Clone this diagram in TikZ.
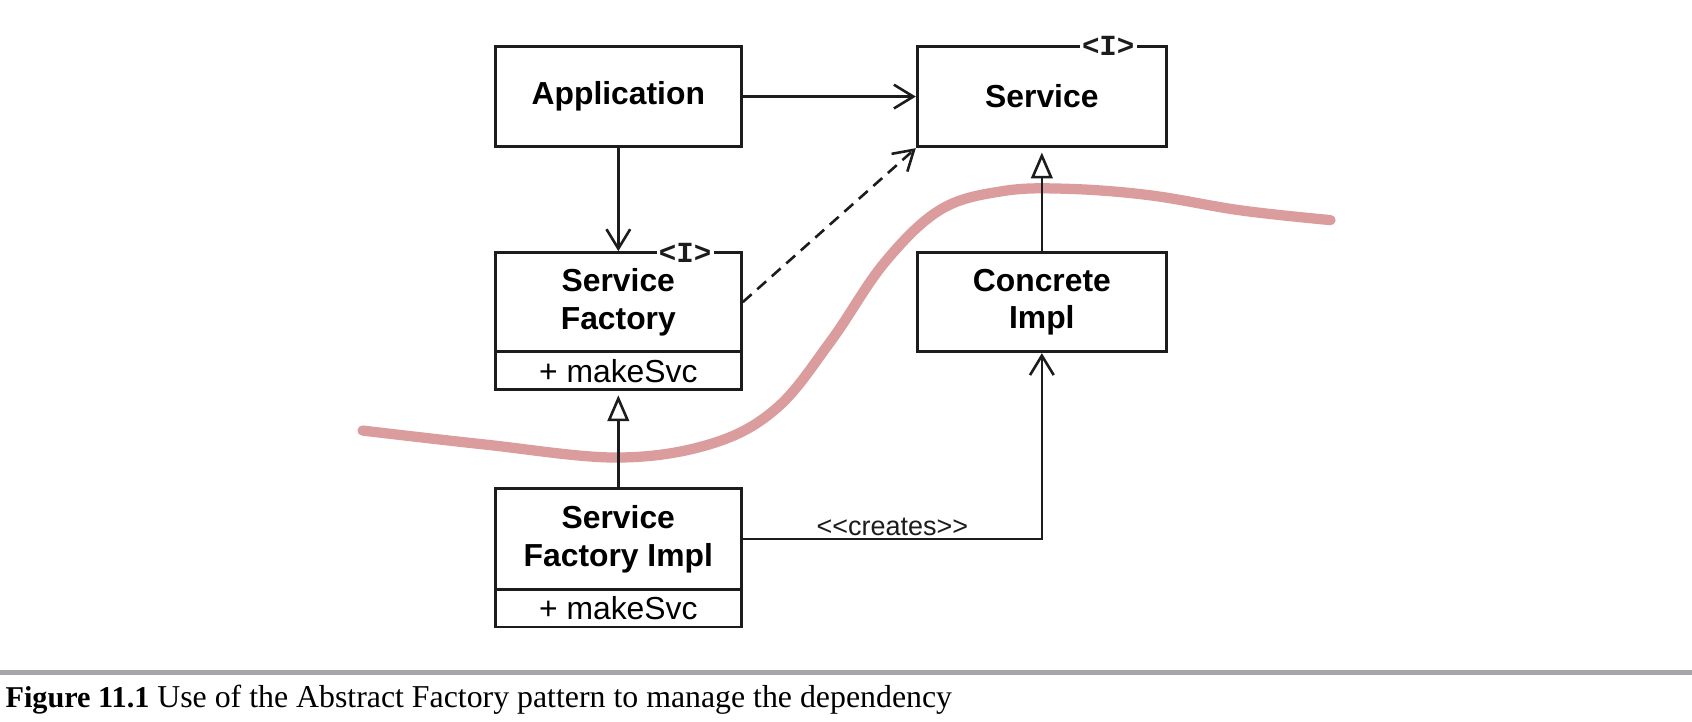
\documentclass[tikz,border=0pt]{standalone}
\usepackage{fontspec}
\setmainfont{Liberation Serif}
\newfontfamily\sansf{Liberation Sans}
\newfontfamily\monof{Liberation Mono}
\usetikzlibrary{arrows.meta}
\definecolor{ink}{RGB}{28,28,28}
\definecolor{redline}{RGB}{218,156,156}
\definecolor{rulegray}{RGB}{165,165,170}
\tikzset{
  box/.style={draw=ink, line width=2.6pt, rectangle, inner sep=0pt, align=center,
    font=\sansf\bfseries\fontsize{29.5}{35}\selectfont},
  opbox/.style={draw=ink, line width=2.6pt, rectangle, inner sep=0pt,
    font=\sansf\fontsize{29.5}{35}\selectfont},
  iface/.style={fill=white, inner xsep=2pt, inner ysep=0pt, text=ink,
    font=\monof\bfseries\fontsize{27}{27}\selectfont},
  assoc/.style={draw=ink, line width=2.4pt, -{Straight Barb[length=18pt,width=22pt,line width=2.4pt]}},
  gen/.style={draw=ink, line width=2.4pt, -{Triangle[open,length=24pt,width=20pt,line width=2.4pt]}, shorten >=4pt},
  lbl/.style={font=\sansf\fontsize{25}{28}\selectfont, text=ink, inner sep=2pt},
}
\begin{document}
\begin{tikzpicture}[x=1pt,y=-1pt]
\useasboundingbox (0,0) rectangle (1568,669);
\fill[white] (0,0) rectangle (1568,669);
% red boundary curve
\draw[redline, line width=9.5pt, line cap=round]
  plot[smooth, tension=0.6] coordinates {(336,399) (450,412) (572,424) (660,411) (720,378) (770,316) (820,243) (872,194) (930,177) (990,175) (1066,181) (1150,195) (1233,204)};
% boxes
\node[box, minimum width=228pt, minimum height=93pt] (app) at (573,89.5) {Application};
\node[box, minimum width=231pt, minimum height=93pt] (svc) at (965.5,89.5) {Service};
\node[box, minimum width=228pt, minimum height=92pt] (sf) at (573,280) {Service\\Factory};
\node[opbox, minimum width=228pt, minimum height=35pt] (sfm) at (573,343.5) {+ makeSvc};
\node[box, minimum width=231pt, minimum height=92pt] (ci) at (965.5,280) {Concrete\\Impl};
\node[box, minimum width=228pt, minimum height=93pt] (sfi) at (573,499.5) {Service\\Factory Impl};
\node[opbox, minimum width=228pt, minimum height=35pt] (sfim) at (573,563.5) {+ makeSvc};
% interface markers
\node[iface] (svci) at (1027,43) {<I>};
\node[iface] (sfi-i) at (635,234) {<I>};
% connectors
\draw[assoc] (app.east) -- (svc.west);
\draw[assoc] (app.south) -- (sf.north);
\draw[assoc, dash pattern=on 11pt off 7pt] (sf.east) -- (svc.south west);
\draw[gen] (ci.north) -- (svc.south);
\draw[gen] (sfi.north) -- (sfm.south);
\draw[assoc] (sfi.east) -| node[lbl, pos=0.25, above] (cr) {<<creates>>} (ci.south);
% caption
\fill[rulegray] (0,620.5) rectangle (1568,625.5);
\node[anchor=west, inner sep=0pt, font=\fontsize{29.5}{32}\selectfont] (cap) at (5,648)
  {{\fontsize{28}{32}\selectfont\bfseries Figure 11.1} Use of the Abstract Factory pattern to manage the dependency};
\end{tikzpicture}
\end{document}
